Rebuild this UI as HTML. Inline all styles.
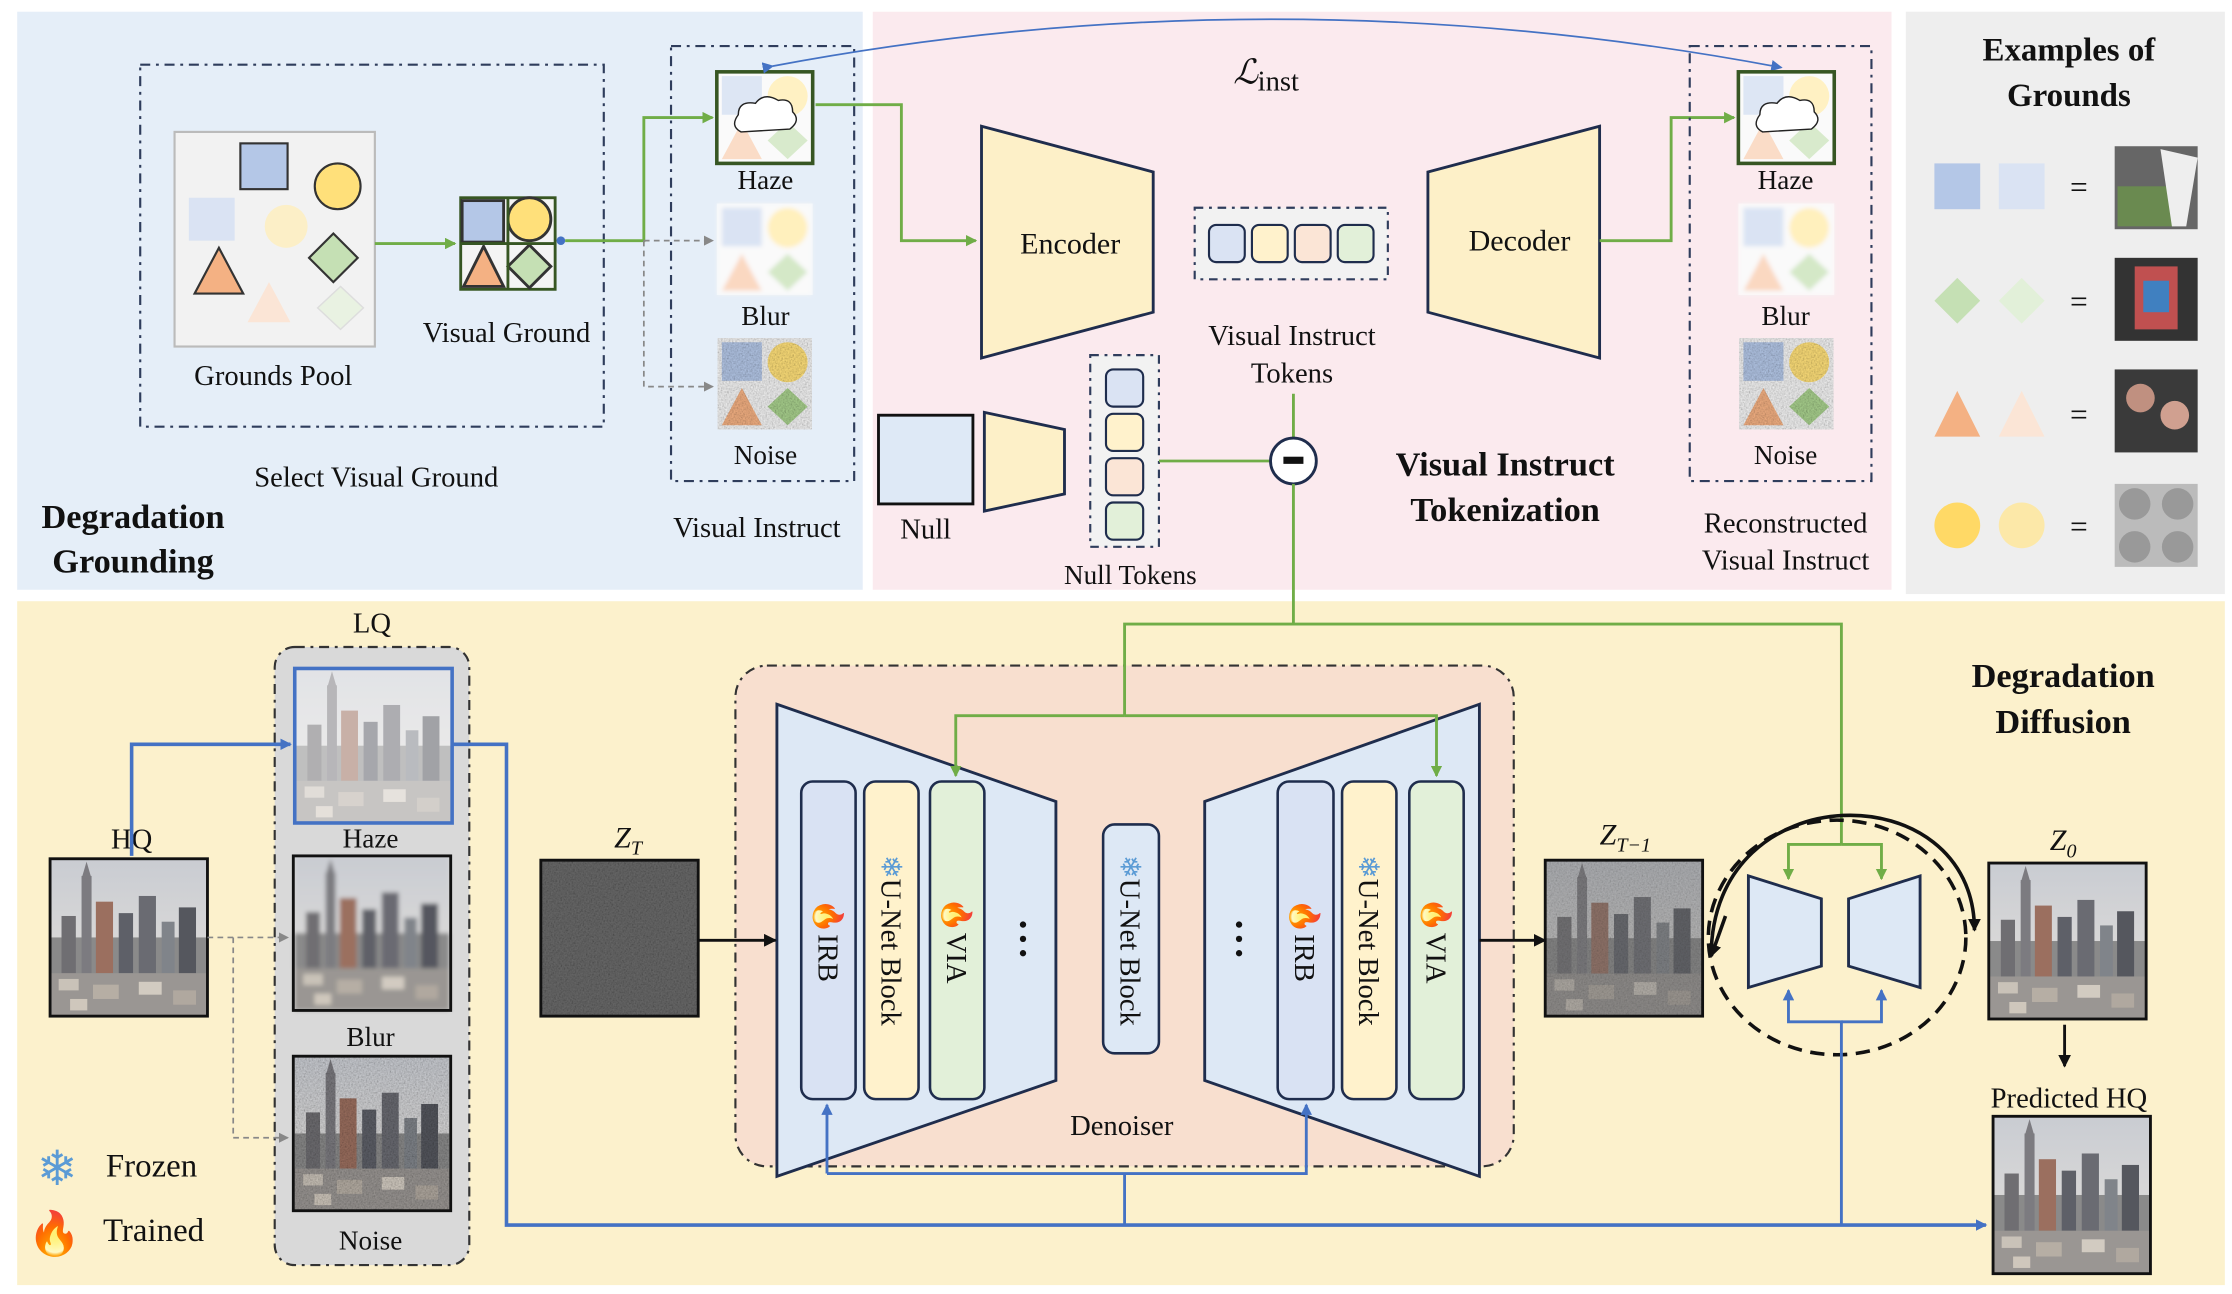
<!DOCTYPE html>
<html><head><meta charset="utf-8"><style>
html,body{margin:0;padding:0;background:#fff;}
svg{display:block;}
text{font-family:"Liberation Serif",serif;fill:#111;}
.b{font-weight:bold;}
</style></head><body>
<svg width="2232" height="1294" viewBox="0 0 1560 904" xmlns="http://www.w3.org/2000/svg">
<defs>
<marker id="ag" markerWidth="8" markerHeight="8" refX="7" refY="4" orient="auto" markerUnits="userSpaceOnUse"><path d="M0,0 L8,4 L0,8z" fill="#70ad47"/></marker>
<marker id="ab" markerWidth="8" markerHeight="8" refX="7" refY="4" orient="auto" markerUnits="userSpaceOnUse"><path d="M0,0 L8,4 L0,8z" fill="#4472c4"/></marker>
<marker id="ak" markerWidth="9" markerHeight="9" refX="8" refY="4.5" orient="auto" markerUnits="userSpaceOnUse"><path d="M0,0 L9,4.5 L0,9z" fill="#111"/></marker>
<marker id="ay" markerWidth="7" markerHeight="7" refX="6" refY="3.5" orient="auto" markerUnits="userSpaceOnUse"><path d="M0,0 L7,3.5 L0,7z" fill="#888"/></marker>
<filter id="nz"><feTurbulence type="fractalNoise" baseFrequency="0.9" numOctaves="2" result="t"/><feColorMatrix type="saturate" values="0" in="t" result="g"/><feComposite in="g" in2="SourceGraphic" operator="in" result="m"/><feBlend in="SourceGraphic" in2="m" mode="multiply"/></filter>
<filter id="bl"><feGaussianBlur stdDeviation="1.5"/></filter>
<linearGradient id="sky" x1="0" y1="0" x2="0" y2="1"><stop offset="0" stop-color="#c9ccd2"/><stop offset="1" stop-color="#e6e2dc"/></linearGradient>
<symbol id="city" viewBox="0 0 110 110">
<rect width="110" height="110" fill="url(#sky)"/>
<rect x="0" y="55" width="110" height="55" fill="#8a8a8a"/>
<rect x="8" y="40" width="10" height="40" fill="#6f6e72"/><rect x="22" y="12" width="7" height="68" fill="#7c7b80"/><path d="M25.5,2 L29,14 L22,14z" fill="#7c7b80"/>
<rect x="32" y="30" width="12" height="50" fill="#9b6f5f"/><rect x="48" y="38" width="10" height="42" fill="#5e6068"/>
<rect x="62" y="26" width="12" height="54" fill="#6a6b72"/><rect x="78" y="44" width="9" height="36" fill="#80848a"/><rect x="90" y="34" width="12" height="46" fill="#55575e"/>
<rect x="0" y="80" width="110" height="30" fill="#9a9693"/>
<rect x="6" y="84" width="14" height="8" fill="#c9c2b8"/><rect x="30" y="88" width="18" height="10" fill="#b6aea4"/><rect x="62" y="86" width="16" height="9" fill="#d2cbc1"/><rect x="86" y="92" width="16" height="10" fill="#b0a89f"/><rect x="14" y="98" width="12" height="8" fill="#cfc7bc"/>
</symbol>
<symbol id="grd" viewBox="0 0 66 64">
<rect width="66" height="64" fill="#f4f4f4"/>
<rect x="3" y="3" width="28" height="27" fill="#b4c7e7"/>
<circle cx="49" cy="17" r="14" fill="#ffe07a"/>
<path d="M17,35 L31,61 L3,61z" fill="#f4b183"/>
<path d="M49,35 L63,48 L49,61 L35,48z" fill="#a9d18e"/>
</symbol>
</defs>

<rect x="12" y="8" width="591" height="404" fill="#e5eef8"/>
<rect x="610" y="8" width="712" height="404" fill="#fbeaee"/>
<rect x="1332" y="8" width="223" height="407" fill="#eeeeee"/>
<rect x="12" y="420" width="1543" height="478" fill="#fcf1cc"/>

<rect x="98" y="45" width="324" height="253" fill="none" stroke="#2f3d5c" stroke-width="1.5" stroke-dasharray="7,4,2,4"/>
<rect x="122" y="92" width="140" height="150" fill="#f2f2f2" stroke="#bbb" stroke-width="1.5"/>
<rect x="132" y="138" width="32" height="30" fill="#dae3f3"/>
<circle cx="200" cy="158" r="15" fill="#fcefc7"/>
<path d="M188,197 L203,225 L173,225z" fill="#fbe5d6"/>
<path d="M238,200 L254,215 L238,230 L222,215z" fill="#e9f2e2" stroke="#ddd"/>
<rect x="168" y="100" width="33" height="32" fill="#b4c7e7" stroke="#333" stroke-width="1.5"/>
<circle cx="236" cy="130" r="16" fill="#ffe07a" stroke="#333" stroke-width="1.5"/>
<path d="M233,163 L250,180 L233,197 L216,180z" fill="#c5e0b4" stroke="#333" stroke-width="1.5"/>
<path d="M153,173 L170,205 L136,205z" fill="#f4b183" stroke="#333" stroke-width="1.5"/>
<text x="191" y="269" font-size="20" text-anchor="middle">Grounds Pool</text>
<line x1="262" y1="170" x2="318" y2="170" stroke="#70ad47" stroke-width="2" marker-end="url(#ag)"/>
<g stroke="#375623" stroke-width="2">
<rect x="322" y="138" width="66" height="64" fill="#f4f4f4"/>
<rect x="323" y="140" width="29" height="29" fill="#b4c7e7" stroke="#333"/>
<circle cx="370" cy="153" r="15" fill="#ffe07a" stroke="#333"/>
<path d="M338,172 L352,200 L324,200z" fill="#f4b183" stroke="#333"/>
<path d="M370,171 L385,186 L370,201 L355,186z" fill="#c5e0b4" stroke="#333"/>
<line x1="355" y1="138" x2="355" y2="202"/><line x1="322" y1="170" x2="388" y2="170"/>
</g>
<circle cx="392" cy="168" r="3" fill="#4472c4"/>
<text x="354" y="239" font-size="20" text-anchor="middle">Visual Ground</text>
<text x="263" y="340" font-size="20" text-anchor="middle">Select Visual Ground</text>
<text x="93" y="369" font-size="24" class="b" text-anchor="middle">Degradation</text>
<text x="93" y="400" font-size="24" class="b" text-anchor="middle">Grounding</text>

<rect x="469" y="32" width="128" height="304" fill="none" stroke="#2f3d5c" stroke-width="1.5" stroke-dasharray="7,4,2,4"/>
<polyline points="395,168 450,168 450,82 498,82" fill="none" stroke="#70ad47" stroke-width="2" marker-end="url(#ag)"/>
<polyline points="450,168 498,168" fill="none" stroke="#888" stroke-width="1.2" stroke-dasharray="4,3" marker-end="url(#ay)"/>
<polyline points="450,168 450,270 498,270" fill="none" stroke="#888" stroke-width="1.2" stroke-dasharray="4,3" marker-end="url(#ay)"/>
<use href="#grd" x="501" y="50" width="67" height="64"/>
<rect x="501" y="50" width="67" height="64" fill="#fff" opacity="0.55"/>
<rect x="501" y="50" width="67" height="64" fill="none" stroke="#375623" stroke-width="2.5"/>
<path d="M518,92 q-8,-4 -2,-12 q0,-10 12,-8 q6,-8 16,-2 q10,-2 10,8 q6,6 -2,12z" fill="#fff" stroke="#222" stroke-width="1"/>
<g filter="url(#bl)"><use href="#grd" x="501" y="142" width="67" height="64"/></g>
<rect x="501" y="142" width="67" height="64" fill="#fff" opacity="0.5"/>
<use href="#grd" x="501" y="236" width="67" height="64" filter="url(#nz)"/>
<text x="535" y="132" font-size="19" text-anchor="middle">Haze</text>
<text x="535" y="227" font-size="19" text-anchor="middle">Blur</text>
<text x="535" y="324" font-size="19" text-anchor="middle">Noise</text>
<text x="529" y="375" font-size="20" text-anchor="middle">Visual Instruct</text>

<path d="M540,46 Q890,-20 1245,47" fill="none" stroke="#4472c4" stroke-width="1.2" marker-end="url(#ab)" marker-start="url(#ab)"/>
<text x="862" y="58" font-size="24" font-style="italic">ℒ</text><text x="879" y="63" font-size="20">inst</text>
<polyline points="570,73 630,73 630,168 682,168" fill="none" stroke="#70ad47" stroke-width="2" marker-end="url(#ag)"/>
<path d="M686,88 L806,120 L806,218 L686,250z" fill="#fdf0c8" stroke="#1f2d4d" stroke-width="2"/>
<text x="748" y="177" font-size="21" text-anchor="middle">Encoder</text>
<rect x="835" y="145" width="135" height="50" fill="#f2f2f2" stroke="#2f3d5c" stroke-width="1.5" stroke-dasharray="6,4,2,4"/>
<rect x="845" y="157" width="25" height="26" rx="5" fill="#dae3f3" stroke="#1f2d4d" stroke-width="1.5"/>
<rect x="875" y="157" width="25" height="26" rx="5" fill="#fff2cc" stroke="#1f2d4d" stroke-width="1.5"/>
<rect x="905" y="157" width="25" height="26" rx="5" fill="#fbe5d6" stroke="#1f2d4d" stroke-width="1.5"/>
<rect x="935" y="157" width="25" height="26" rx="5" fill="#e2f0d9" stroke="#1f2d4d" stroke-width="1.5"/>
<text x="903" y="241" font-size="20" text-anchor="middle">Visual Instruct</text>
<text x="903" y="267" font-size="20" text-anchor="middle">Tokens</text>
<path d="M998,120 L1118,88 L1118,250 L998,218z" fill="#fdf0c8" stroke="#1f2d4d" stroke-width="2"/>
<text x="1062" y="175" font-size="21" text-anchor="middle">Decoder</text>
<polyline points="1118,168 1168,168 1168,82 1212,82" fill="none" stroke="#70ad47" stroke-width="2" marker-end="url(#ag)"/>
<rect x="1181" y="32" width="127" height="304" fill="none" stroke="#2f3d5c" stroke-width="1.5" stroke-dasharray="7,4,2,4"/>
<use href="#grd" x="1215" y="50" width="67" height="64"/>
<rect x="1215" y="50" width="67" height="64" fill="#fff" opacity="0.55"/>
<rect x="1215" y="50" width="67" height="64" fill="none" stroke="#375623" stroke-width="2.5"/>
<path d="M1232,92 q-8,-4 -2,-12 q0,-10 12,-8 q6,-8 16,-2 q10,-2 10,8 q6,6 -2,12z" fill="#fff" stroke="#222" stroke-width="1"/>
<g filter="url(#bl)"><use href="#grd" x="1215" y="142" width="67" height="64"/></g>
<rect x="1215" y="142" width="67" height="64" fill="#fff" opacity="0.5"/>
<use href="#grd" x="1215" y="236" width="67" height="64" filter="url(#nz)"/>
<text x="1248" y="132" font-size="19" text-anchor="middle">Haze</text>
<text x="1248" y="227" font-size="19" text-anchor="middle">Blur</text>
<text x="1248" y="324" font-size="19" text-anchor="middle">Noise</text>
<text x="1248" y="372" font-size="20" text-anchor="middle">Reconstructed</text>
<text x="1248" y="398" font-size="20" text-anchor="middle">Visual Instruct</text>
<rect x="614" y="290" width="66" height="62" fill="#dee9f6" stroke="#111" stroke-width="2"/>
<text x="647" y="376" font-size="20" text-anchor="middle">Null</text>
<path d="M688,288 L744,300 L744,345 L688,357z" fill="#fdf0c8" stroke="#1f2d4d" stroke-width="2"/>
<rect x="762" y="248" width="48" height="134" fill="#f2f2f2" stroke="#2f3d5c" stroke-width="1.5" stroke-dasharray="6,4,2,4"/>
<rect x="773" y="258" width="26" height="26" rx="5" fill="#dae3f3" stroke="#1f2d4d" stroke-width="1.5"/>
<rect x="773" y="289" width="26" height="26" rx="5" fill="#fff2cc" stroke="#1f2d4d" stroke-width="1.5"/>
<rect x="773" y="320" width="26" height="26" rx="5" fill="#fbe5d6" stroke="#1f2d4d" stroke-width="1.5"/>
<rect x="773" y="351" width="26" height="26" rx="5" fill="#e2f0d9" stroke="#1f2d4d" stroke-width="1.5"/>
<text x="790" y="408" font-size="19" text-anchor="middle">Null Tokens</text>
<line x1="810" y1="322" x2="888" y2="322" stroke="#70ad47" stroke-width="2"/>
<line x1="904" y1="275" x2="904" y2="306" stroke="#70ad47" stroke-width="2"/>
<circle cx="904" cy="322" r="16" fill="#fff" stroke="#1f2d4d" stroke-width="2"/>
<rect x="897" y="319" width="14" height="5" fill="#111"/>
<text x="1052" y="332" font-size="24" class="b" text-anchor="middle">Visual Instruct</text>
<text x="1052" y="364" font-size="24" class="b" text-anchor="middle">Tokenization</text>

<text x="1446" y="42" font-size="23" class="b" text-anchor="middle">Examples of</text>
<text x="1446" y="74" font-size="23" class="b" text-anchor="middle">Grounds</text>
<rect x="1352" y="114" width="32" height="32" fill="#b4c7e7"/><rect x="1397" y="114" width="32" height="32" fill="#dae3f3"/>
<path d="M1368,194 L1384,210 L1368,226 L1352,210z" fill="#c5e0b4"/><path d="M1413,194 L1429,210 L1413,226 L1397,210z" fill="#e2f0d9"/>
<path d="M1368,273 L1384,305 L1352,305z" fill="#f4b183"/><path d="M1413,273 L1429,305 L1397,305z" fill="#fbe5d6"/>
<circle cx="1368" cy="367" r="16" fill="#ffd966"/><circle cx="1413" cy="367" r="16" fill="#fce8a8"/>
<text x="1453" y="138" font-size="22" text-anchor="middle">=</text><text x="1453" y="218" font-size="22" text-anchor="middle">=</text>
<text x="1453" y="297" font-size="22" text-anchor="middle">=</text><text x="1453" y="375" font-size="22" text-anchor="middle">=</text>
<rect x="1478" y="102" width="58" height="58" fill="#666"/><rect x="1480" y="130" width="40" height="28" fill="#6a8a50"/><path d="M1510,104 L1536,110 L1528,158 L1518,158z" fill="#eee"/>
<rect x="1478" y="180" width="58" height="58" fill="#333"/><rect x="1492" y="186" width="30" height="44" fill="#c05050"/><rect x="1498" y="196" width="18" height="22" fill="#4080c0"/>
<rect x="1478" y="258" width="58" height="58" fill="#3a3a3a"/><circle cx="1496" cy="278" r="10" fill="#c09080"/><circle cx="1520" cy="290" r="10" fill="#d0a090"/>
<rect x="1478" y="338" width="58" height="58" fill="#bbb"/><circle cx="1492" cy="352" r="11" fill="#999"/><circle cx="1522" cy="352" r="11" fill="#999"/><circle cx="1492" cy="382" r="11" fill="#999"/><circle cx="1522" cy="382" r="11" fill="#999"/>

<rect x="192" y="452" width="136" height="432" rx="14" fill="#d9d9d9" stroke="#333" stroke-width="1.5" stroke-dasharray="7,4,2,4"/>
<text x="260" y="442" font-size="20" text-anchor="middle">LQ</text>
<use href="#city" x="206" y="467" width="110" height="108"/><rect x="206" y="467" width="110" height="108" fill="#fff" opacity="0.45"/>
<rect x="206" y="467" width="110" height="108" fill="none" stroke="#4472c4" stroke-width="2.5"/>
<g filter="url(#bl)"><use href="#city" x="205" y="598" width="110" height="108"/></g>
<rect x="205" y="598" width="110" height="108" fill="none" stroke="#111" stroke-width="2"/>
<use href="#city" x="205" y="738" width="110" height="108" filter="url(#nz)"/>
<rect x="205" y="738" width="110" height="108" fill="none" stroke="#111" stroke-width="2"/>
<text x="259" y="592" font-size="19" text-anchor="middle">Haze</text>
<text x="259" y="731" font-size="19" text-anchor="middle">Blur</text>
<text x="259" y="873" font-size="19" text-anchor="middle">Noise</text>
<text x="92" y="593" font-size="20" text-anchor="middle">HQ</text>
<use href="#city" x="35" y="600" width="110" height="110"/><rect x="35" y="600" width="110" height="110" fill="none" stroke="#111" stroke-width="2"/>
<polyline points="92,598 92,520 203,520" fill="none" stroke="#4472c4" stroke-width="2.5" marker-end="url(#ab)"/>
<polyline points="145,655 201,655" fill="none" stroke="#888" stroke-width="1.2" stroke-dasharray="4,3" marker-end="url(#ay)"/>
<polyline points="163,655 163,795 201,795" fill="none" stroke="#888" stroke-width="1.2" stroke-dasharray="4,3" marker-end="url(#ay)"/>
<text x="439" y="592" font-size="21" font-style="italic" text-anchor="middle">Z<tspan font-size="14" dy="5">T</tspan></text>
<rect x="378" y="601" width="110" height="109" fill="#6a6a6a" filter="url(#nz)"/><rect x="378" y="601" width="110" height="109" fill="none" stroke="#111" stroke-width="2"/>
<rect x="514" y="465" width="544" height="350" rx="22" fill="#f8dfcf" stroke="#333" stroke-width="1.5" stroke-dasharray="7,4,2,4"/>
<path d="M543,492 L738,560 L738,755 L543,822z" fill="#dde8f5" stroke="#1f2d4d" stroke-width="2"/>
<path d="M842,560 L1034,492 L1034,822 L842,755z" fill="#dde8f5" stroke="#1f2d4d" stroke-width="2"/>
<line x1="488" y1="657" x2="542" y2="657" stroke="#111" stroke-width="2" marker-end="url(#ak)"/>
<g stroke="#1f2d4d" stroke-width="1.8">
<rect x="560" y="546" width="38" height="222" rx="8" fill="#d9e2f3"/>
<rect x="604" y="546" width="38" height="222" rx="8" fill="#fff2cc"/>
<rect x="650" y="546" width="38" height="222" rx="8" fill="#e2f0d9"/>
<rect x="771" y="576" width="39" height="160" rx="8" fill="#dde8f5"/>
<rect x="893" y="546" width="39" height="222" rx="8" fill="#d9e2f3"/>
<rect x="938" y="546" width="38" height="222" rx="8" fill="#fff2cc"/>
<rect x="985" y="546" width="38" height="222" rx="8" fill="#e2f0d9"/>
</g>
<g font-size="20">
<text transform="translate(572,657) rotate(90)" text-anchor="middle">🔥IRB</text>
<text transform="translate(616,657) rotate(90)" text-anchor="middle"><tspan fill="#5b9bd5">❄</tspan>U-Net Block</text>
<text transform="translate(662,657) rotate(90)" text-anchor="middle">🔥VIA</text>
<text transform="translate(783,657) rotate(90)" text-anchor="middle"><tspan fill="#5b9bd5">❄</tspan>U-Net Block</text>
<text transform="translate(905,657) rotate(90)" text-anchor="middle">🔥IRB</text>
<text transform="translate(950,657) rotate(90)" text-anchor="middle"><tspan fill="#5b9bd5">❄</tspan>U-Net Block</text>
<text transform="translate(997,657) rotate(90)" text-anchor="middle">🔥VIA</text>
</g>
<g fill="#111"><circle cx="715" cy="646" r="2.2"/><circle cx="715" cy="656" r="2.2"/><circle cx="715" cy="666" r="2.2"/>
<circle cx="866" cy="646" r="2.2"/><circle cx="866" cy="656" r="2.2"/><circle cx="866" cy="666" r="2.2"/></g>
<text x="784" y="793" font-size="20" text-anchor="middle">Denoiser</text>
<polyline points="904,338 904,436 786,436 786,500" fill="none" stroke="#70ad47" stroke-width="2"/>
<polyline points="904,436 1287,436 1287,590" fill="none" stroke="#70ad47" stroke-width="2"/>
<polyline points="786,500 668,500 668,542" fill="none" stroke="#70ad47" stroke-width="2" marker-end="url(#ag)"/>
<polyline points="786,500 1004,500 1004,542" fill="none" stroke="#70ad47" stroke-width="2" marker-end="url(#ag)"/>
<polyline points="316,520 354,520 354,856 1388,856" fill="none" stroke="#4472c4" stroke-width="2.5" marker-end="url(#ab)"/>
<polyline points="786,856 786,820" fill="none" stroke="#4472c4" stroke-width="2"/>
<polyline points="578,820 578,772" fill="none" stroke="#4472c4" stroke-width="2" marker-end="url(#ab)"/>
<polyline points="578,820 913,820 913,772" fill="none" stroke="#4472c4" stroke-width="2" marker-end="url(#ab)"/>
<line x1="1034" y1="657" x2="1080" y2="657" stroke="#111" stroke-width="2" marker-end="url(#ak)"/>
<text x="1136" y="590" font-size="21" font-style="italic" text-anchor="middle">Z<tspan font-size="14" dy="5">T−1</tspan></text>
<use href="#city" x="1080" y="601" width="110" height="109" filter="url(#nz)"/><rect x="1080" y="601" width="110" height="109" fill="#777" opacity="0.35"/>
<rect x="1080" y="601" width="110" height="109" fill="none" stroke="#111" stroke-width="2"/>
<ellipse cx="1284" cy="655" rx="90" ry="82" fill="none" stroke="#111" stroke-width="2.5" stroke-dasharray="10,6"/>
<path d="M1196,668 C1196,540 1380,540 1380,650" fill="none" stroke="#111" stroke-width="2.5" marker-end="url(#ak)"/>
<path d="M1206,640 L1196,668" fill="none" stroke="#111" stroke-width="2.5" marker-end="url(#ak)"/>
<path d="M1222,612 L1273,628 L1273,675 L1222,690z" fill="#dde8f5" stroke="#1f2d4d" stroke-width="2"/>
<path d="M1292,628 L1342,612 L1342,690 L1292,675z" fill="#dde8f5" stroke="#1f2d4d" stroke-width="2"/>
<polyline points="1287,590 1250,590 1250,614" fill="none" stroke="#70ad47" stroke-width="2" marker-end="url(#ag)"/>
<polyline points="1287,590 1315,590 1315,614" fill="none" stroke="#70ad47" stroke-width="2" marker-end="url(#ag)"/>
<polyline points="1287,856 1287,714 1250,714 1250,692" fill="none" stroke="#4472c4" stroke-width="2" marker-end="url(#ab)"/>
<polyline points="1287,714 1315,714 1315,692" fill="none" stroke="#4472c4" stroke-width="2" marker-end="url(#ab)"/>
<text x="1442" y="594" font-size="21" font-style="italic" text-anchor="middle">Z<tspan font-size="14" dy="5">0</tspan></text>
<use href="#city" x="1390" y="603" width="110" height="109"/><rect x="1390" y="603" width="110" height="109" fill="none" stroke="#111" stroke-width="2"/>
<line x1="1443" y1="716" x2="1443" y2="745" stroke="#111" stroke-width="2" marker-end="url(#ak)"/>
<text x="1446" y="774" font-size="20" text-anchor="middle">Predicted HQ</text>
<use href="#city" x="1393" y="780" width="110" height="110"/><rect x="1393" y="780" width="110" height="110" fill="none" stroke="#111" stroke-width="2"/>
<text x="1442" y="480" font-size="24" class="b" text-anchor="middle">Degradation</text>
<text x="1442" y="512" font-size="24" class="b" text-anchor="middle">Diffusion</text>
<text x="40" y="828" font-size="34" text-anchor="middle" style="fill:#5b9bd5">❄</text>
<text x="74" y="822" font-size="23">Frozen</text>
<text x="38" y="872" font-size="30" text-anchor="middle">🔥</text>
<text x="72" y="867" font-size="23">Trained</text>
</svg>
</body></html>
